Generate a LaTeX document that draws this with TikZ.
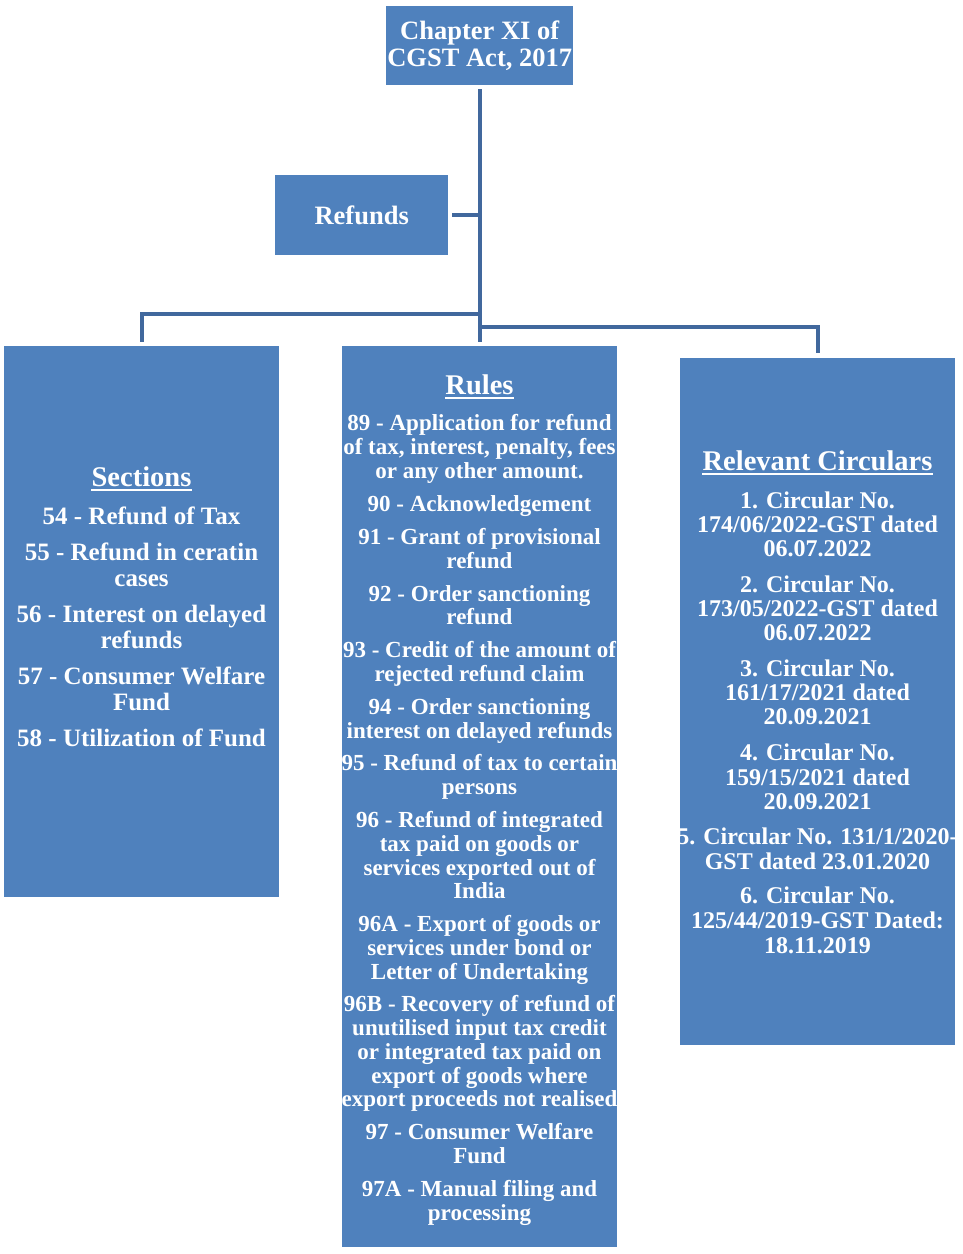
\documentclass[tikz,border=0pt]{standalone}
\usepackage{fontspec}
\setmainfont{Liberation Serif}
\definecolor{boxblue}{HTML}{4F81BD}
\definecolor{linkblue}{HTML}{41689D}
\begin{document}
\begin{tikzpicture}[x=1pt,y=-1pt,
  box/.style={fill=boxblue, draw=none, inner sep=0pt, anchor=north west, text=white, align=center},
  link/.style={draw=linkblue, line width=4pt},
  txt/.style={text=white, font=\bfseries\fontsize{#1}{#1}\selectfont, anchor=base, inner sep=0pt},
  hdr/.style={txt=28.5},
  ul/.style={draw=white, line width=2pt},
]
\useasboundingbox (0,0) rectangle (963,1254);

% boxes
\node[box, minimum width=187pt, minimum height=79pt,
      font=\bfseries\fontsize{26.5}{27.5}\selectfont] (chap) at (386,6) {Chapter XI of\\CGST Act, 2017};
\node[box, minimum width=173pt, minimum height=80pt,
      font=\bfseries\fontsize{26.5}{27.5}\selectfont] (ref) at (275,175) {Refunds};
\node[box, minimum width=275pt, minimum height=551pt] (sec) at (4,346) {};
\node[box, minimum width=275pt, minimum height=901pt] (rules) at (342,346) {};
\node[box, minimum width=275pt, minimum height=687pt] (circ) at (680,358) {};

% connectors
\coordinate (jl) at (479.5,314);
\coordinate (jr) at (479.5,327);
\draw[link, shorten <=4pt, shorten >=4pt] (chap.south) -- (rules.north);
\draw[link, shorten <=4pt] (ref.east) -- (ref.east -| chap.south);
\draw[link] (jl) -| ([yshift=4pt]sec.north);
\draw[link] (jr) -| ([yshift=5pt]circ.north);

% Sections
\node[hdr] (sech) at (141.5,486) {Sections};
\draw[ul] ([yshift=-4pt]sech.base west) -- ([yshift=-4pt]sech.base east);
\foreach \yy/\t [count=\i] in {524/{54 - Refund of Tax}, 560/{55 - Refund in ceratin}, 586/{cases},
  622/{56 - Interest on delayed}, 648/{refunds}, 684/{57 - Consumer Welfare}, 710/{Fund},
  746/{58 - Utilization of Fund}}
  \node[txt=25] (s\i) at (141.5,\yy) {\t};

% Rules
\node[hdr] (ruleh) at (479.5,394) {Rules};
\draw[ul] ([yshift=-4pt]ruleh.base west) -- ([yshift=-4pt]ruleh.base east);
\foreach \yy/\t [count=\i] in {430.5/{89 - Application for refund}, 454.5/{of tax, interest, penalty, fees},
  478.5/{or any other amount.}, 511.5/{90 - Acknowledgement}, 544.5/{91 - Grant of provisional},
  568.5/{refund}, 601.5/{92 - Order sanctioning}, 624.5/{refund}, 657.5/{93 - Credit of the amount of},
  681.5/{rejected refund claim}, 714.5/{94 - Order sanctioning}, 738.5/{interest on delayed refunds},
  770.5/{95 - Refund of tax to certain}, 794.5/{persons}, 827.5/{96 - Refund of integrated},
  851.5/{tax paid on goods or}, 875.5/{services exported out of}, 898.5/{India},
  931.5/{96A - Export of goods or}, 955.5/{services under bond or}, 979.5/{Letter of Undertaking},
  1011.5/{96B - Recovery of refund of}, 1035.5/{unutilised input tax credit},
  1059.5/{or integrated tax paid on}, 1083.5/{export of goods where},
  1106.5/{export proceeds not realised}, 1139.5/{97 - Consumer Welfare}, 1163.5/{Fund},
  1196.5/{97A - Manual filing and}, 1220.5/{processing}}
  \node[txt=23] (r\i) at (479.5,\yy) {\t};

% Circulars
\node[hdr] (circh) at (817.5,470) {Relevant Circulars};
\draw[ul] ([yshift=-4pt]circh.base west) -- ([yshift=-4pt]circh.base east);
\foreach \yy/\t [count=\i] in {508/{1. Circular No.}, 532/{174/06/2022-GST dated}, 556/{06.07.2022},
  592/{2. Circular No.}, 616/{173/05/2022-GST dated}, 640/{06.07.2022},
  676/{3. Circular No.}, 700/{161/17/2021 dated}, 724/{20.09.2021},
  760/{4. Circular No.}, 785/{159/15/2021 dated}, 809/{20.09.2021},
  844/{5. Circular No. 131/1/2020-}, 869/{GST dated 23.01.2020},
  903/{6. Circular No.}, 928/{125/44/2019-GST Dated:}, 953/{18.11.2019}}
  \node[txt=24] (c\i) at (817.5,\yy) {\t};
\end{tikzpicture}
\end{document}
